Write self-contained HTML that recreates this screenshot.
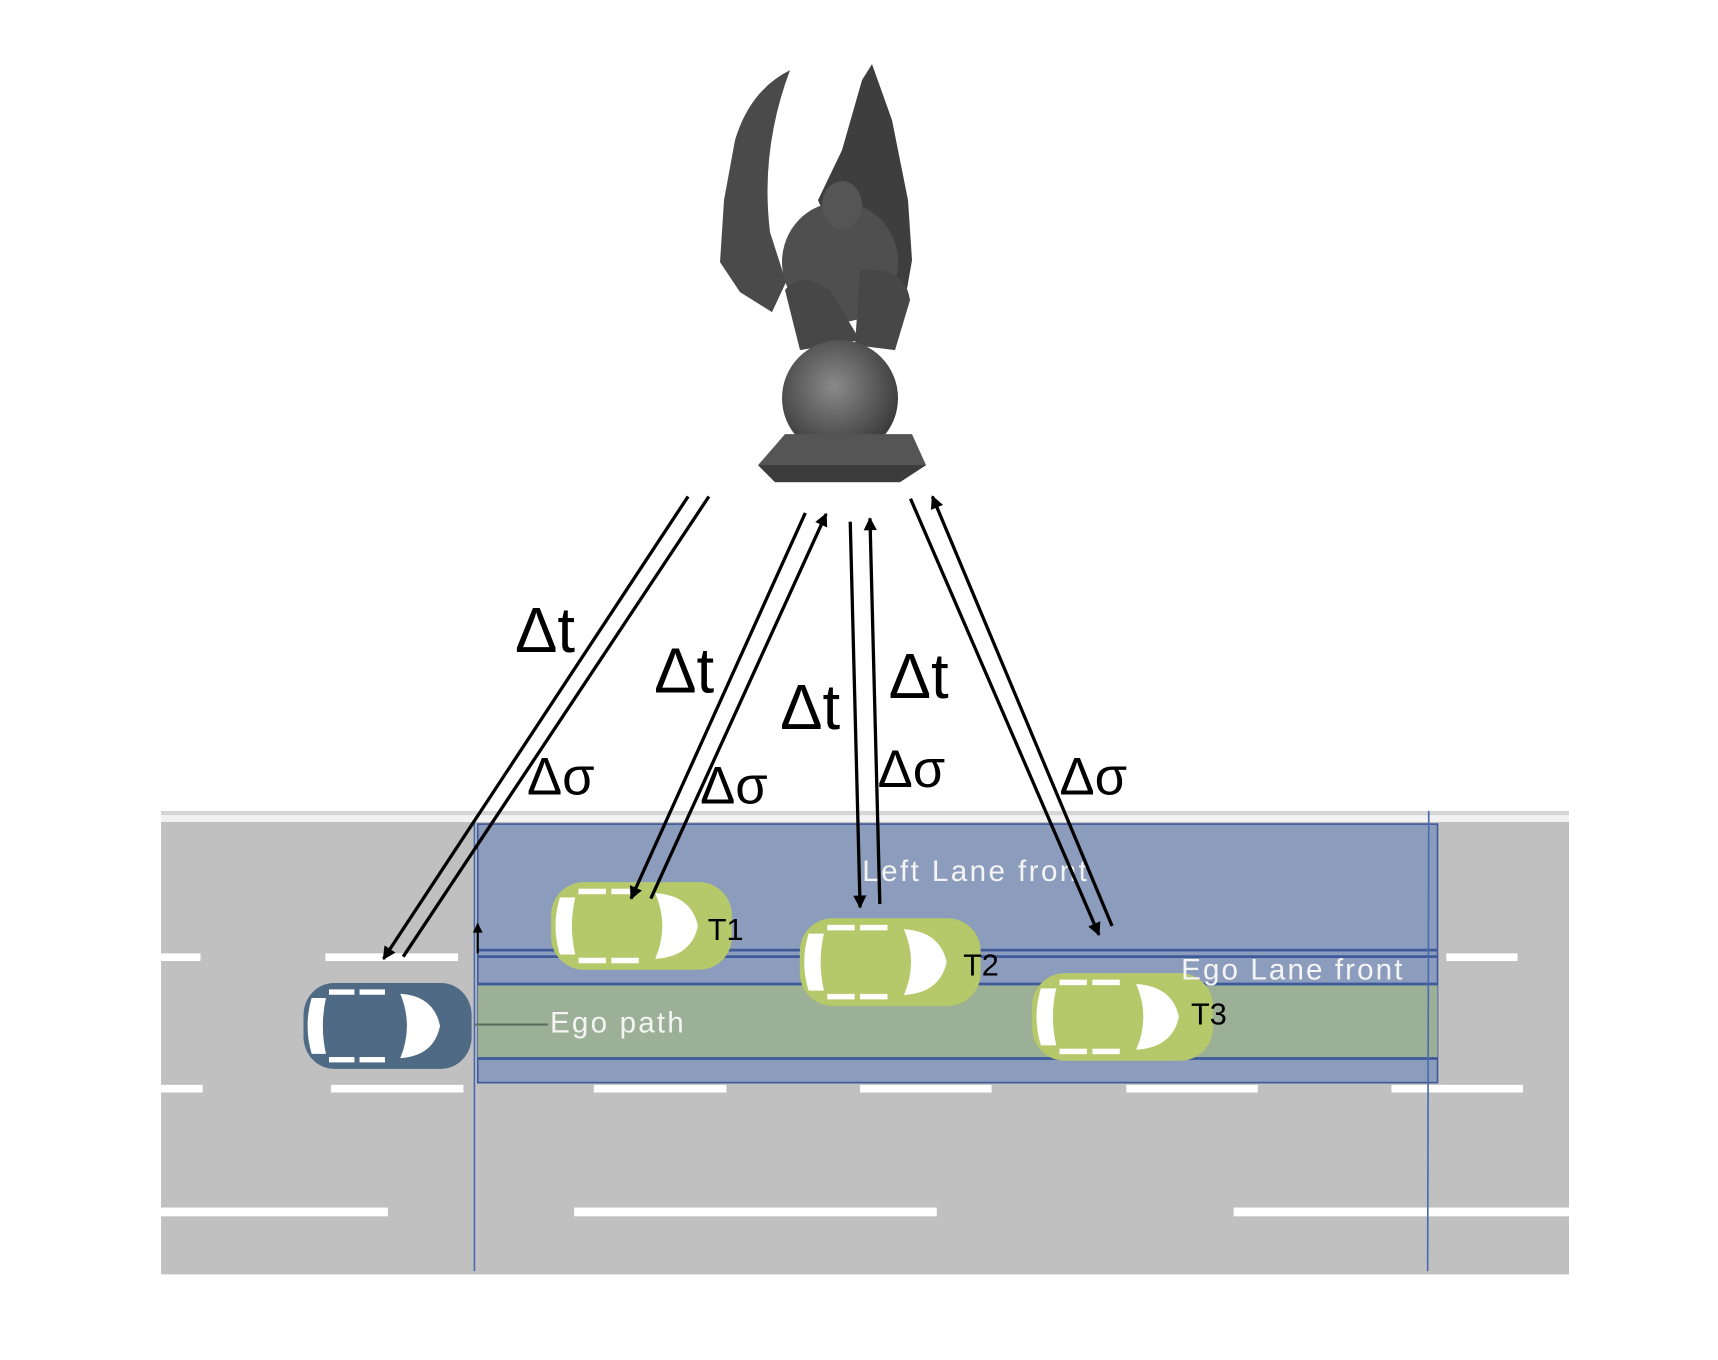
<!DOCTYPE html>
<html><head><meta charset="utf-8"><style>
html,body{margin:0;padding:0;background:#fff;}
svg{display:block}
text{font-family:"Liberation Sans",sans-serif}
</style></head><body>
<svg width="1718" height="1360" viewBox="0 0 1568 1241" xmlns="http://www.w3.org/2000/svg">
<defs>
<marker id="ah" viewBox="0 0 10 10" refX="9" refY="5" markerWidth="12" markerHeight="9" orient="auto-start-reverse" markerUnits="userSpaceOnUse"><path d="M0,0 L10,5 L0,10 z" fill="#000"/></marker>
<marker id="ah2" viewBox="0 0 10 10" refX="9" refY="5" markerWidth="20" markerHeight="12" orient="auto-start-reverse" markerUnits="userSpaceOnUse"><path d="M0,0 L10,5 L0,10 z" fill="#000"/></marker>
<radialGradient id="sph" cx="0.45" cy="0.4" r="0.6"><stop offset="0" stop-color="#8a8a8a"/><stop offset="1" stop-color="#3a3a3a"/></radialGradient>
<g id="car">
 <rect x="0" y="0" width="165" height="80" rx="30" fill="currentColor"/>
 <path d="M8,14 Q0,40 8,66 L22,66 Q16,40 22,14 z" fill="#fff"/>
 <path d="M95,10 Q128,12 134,40 Q128,68 95,70 Q108,40 95,10 z" fill="#fff"/>
 <rect x="25" y="6" width="25" height="5" fill="#fff"/><rect x="55" y="6" width="25" height="5" fill="#fff"/>
 <rect x="25" y="69" width="25" height="5" fill="#fff"/><rect x="55" y="69" width="25" height="5" fill="#fff"/>
</g>
</defs>
<rect width="1568" height="1241" fill="#fff"/>
<g transform="scale(0.9127)">
 <path d="M790,70 Q750,90 735,140 L724,200 L720,262 L740,292 L772,312 L786,282 L770,232 Q760,150 790,70 Z" fill="#4a4a4a"/>
 <path d="M872,64 L862,80 L842,150 L818,200 L835,240 L880,260 L905,300 L912,260 L908,200 L892,120 Z" fill="#3e3e3e"/>
 <ellipse cx="840" cy="262" rx="58" ry="60" fill="#4f4f4f"/>
 <ellipse cx="842" cy="205" rx="20" ry="24" fill="#555"/>
 <path d="M785,290 Q800,270 830,290 L860,340 L800,350 Z" fill="#474747"/>
 <path d="M860,270 Q905,265 910,300 L895,350 L855,345 Z" fill="#474747"/>
 <circle cx="840" cy="398" r="58" fill="url(#sph)"/>
 <path d="M785,434 L912,434 L926,465 L900,482 L775,482 L758,465 Z" fill="#555"/>
 <path d="M758,465 L926,465 L900,482 L775,482 Z" fill="#3c3c3c"/>
</g>
<rect x="147" y="740" width="1285" height="4" fill="#d6d6d6"/>
<rect x="147" y="750" width="1285" height="413" fill="#c0c0c0"/>
<rect x="147" y="744" width="1285" height="6" fill="#f2f2f2"/>
<g fill="#fff">
 <rect x="147" y="870" width="36" height="7"/><rect x="297" y="870" width="121" height="7"/><rect x="1320" y="870" width="65" height="7"/>
 <rect x="147" y="990" width="38" height="7"/><rect x="302" y="990" width="121" height="7"/><rect x="542" y="990" width="121" height="7"/><rect x="785" y="990" width="120" height="7"/><rect x="1028" y="990" width="120" height="7"/><rect x="1270" y="990" width="120" height="7"/>
 <rect x="147" y="1102" width="207" height="8"/><rect x="524" y="1102" width="331" height="8"/><rect x="1126" y="1102" width="306" height="8"/>
</g>
<rect x="436" y="752" width="876" height="236" fill="#8c9cbd" stroke="#3f5a9a" stroke-width="1.5"/>
<rect x="436" y="898" width="876" height="68" fill="#9bb096"/>
<g stroke="#3f5a9a" stroke-width="2.5">
 <line x1="436" y1="867" x2="1312" y2="867"/><line x1="436" y1="873" x2="1312" y2="873"/>
 <line x1="436" y1="898" x2="1312" y2="898"/><line x1="436" y1="966" x2="1312" y2="966"/>
</g>
<line x1="433" y1="748" x2="433" y2="1160" stroke="#4a6ab0" stroke-width="1.5"/>
<line x1="1304" y1="740" x2="1303" y2="1160" stroke="#4a6ab0" stroke-width="1.5"/>
<line x1="433" y1="935" x2="500" y2="935" stroke="#5a7060" stroke-width="2"/>
<use href="#car" color="#4e6a85" transform="translate(277,897) scale(0.93,0.98)"/>
<use href="#car" x="503" y="805" color="#b5c96a"/>
<use href="#car" x="730" y="838" color="#b5c96a"/>
<use href="#car" x="942" y="888" color="#b5c96a"/>
<g fill="#f4f4f4" font-size="27">
 <text x="787" y="804" textLength="205">Left Lane front</text>
 <text x="1078" y="894" textLength="202">Ego Lane front</text>
 <text x="502" y="942" textLength="122">Ego path</text>
</g>
<g fill="#000" font-size="28">
 <text x="646" y="858">T1</text><text x="879" y="890">T2</text><text x="1087" y="935">T3</text>
</g>
<g stroke="#000" stroke-width="3" fill="none">
 <line x1="628" y1="453" x2="350" y2="875" marker-end="url(#ah2)"/>
 <line x1="647" y1="453" x2="368" y2="873"/>
 <line x1="735" y1="468" x2="576" y2="820" marker-end="url(#ah2)"/>
 <line x1="594" y1="820" x2="754" y2="469" marker-end="url(#ah2)"/>
 <line x1="776" y1="476" x2="785" y2="828" marker-end="url(#ah2)"/>
 <line x1="803" y1="825" x2="794" y2="473" marker-end="url(#ah2)"/>
 <line x1="831" y1="455" x2="1003" y2="853" marker-end="url(#ah2)"/>
 <line x1="1015" y1="845" x2="851" y2="453" marker-end="url(#ah2)"/>
</g>
<line x1="436" y1="870" x2="436" y2="843" stroke="#000" stroke-width="2" marker-end="url(#ah)"/>
<g fill="#000" font-size="58">
 <text x="470" y="595">Δt</text><text x="597" y="632">Δt</text><text x="712" y="665">Δt</text><text x="811" y="637">Δt</text>
</g>
<g fill="#000" font-size="48">
 <text x="481" y="725">Δσ</text><text x="639" y="733">Δσ</text><text x="801" y="718">Δσ</text><text x="967" y="725">Δσ</text>
</g>
</svg>
</body></html>
